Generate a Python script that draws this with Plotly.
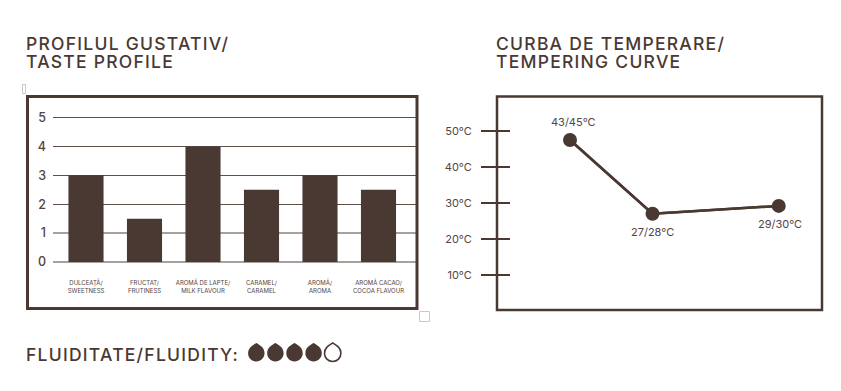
import plotly.graph_objects as go

W, H = 841, 391
BROWN = "#4a3833"
TEXT = "#54443f"

title_left = ["PROFILUL GUSTATIV/", "TASTE PROFILE"]
title_right = ["CURBA DE TEMPERARE/", "TEMPERING CURVE"]
fluidity_label = "FLUIDITATE/FLUIDITY:"
fluidity_levels = [1, 1, 1, 1, 0]

taste_categories = [
    "DULCEAȚĂ/<br>SWEETNESS",
    "FRUCTAT/<br>FRUTINESS",
    "AROMĂ DE LAPTE/<br>MILK FLAVOUR",
    "CARAMEL/<br>CARAMEL",
    "AROMĂ/<br>AROMA",
    "AROMĂ CACAO/<br>COCOA FLAVOUR",
]
taste_values = [3, 1.5, 4, 2.5, 3, 2.5]
taste_ticks = [0, 1, 2, 3, 4, 5]

curve_stage = [0, 1, 2.53]
curve_temp = [47.5, 27, 29.2]
curve_labels = ["43/45°C", "27/28°C", "29/30°C"]
curve_label_shift = [(3, 18), (0, -18), (1, -18)]
temp_ticks = [10, 20, 30, 40, 50]
temp_tick_labels = ["10°C", "20°C", "30°C", "40°C", "50°C"]


def px(x):
    return x / W


def py(y):
    return 1 - y / H


def drop_path(cx, top, r, height):
    cy = top + height - r
    k = r * 0.56
    pts = [
        ("M", [(cx, top)]),
        ("C", [(cx + r * 0.45, top + height * 0.12), (cx + r, cy - r * 0.7), (cx + r, cy)]),
        ("C", [(cx + r, cy + k), (cx + k, cy + r), (cx, cy + r)]),
        ("C", [(cx - k, cy + r), (cx - r, cy + k), (cx - r, cy)]),
        ("C", [(cx - r, cy - r * 0.7), (cx - r * 0.45, top + height * 0.12), (cx, top)]),
    ]
    out = ""
    for cmd, coords in pts:
        out += cmd + " ".join(f"{px(a):.5f},{py(b):.5f}" for a, b in coords) + " "
    return out + "Z"


fig = go.Figure()

fig.add_trace(go.Bar(
    x=taste_categories, y=taste_values, width=0.6,
    marker=dict(color=BROWN, line=dict(width=0)),
    xaxis="x", yaxis="y", hoverinfo="skip",
))
# the inner half of the temperature ticks lives on an overlaying axis, which needs a trace
fig.add_trace(go.Scatter(
    x=curve_stage, y=curve_temp, mode="lines",
    line=dict(color=BROWN, width=2.5),
    xaxis="x2", yaxis="y3", hoverinfo="skip",
))
fig.add_trace(go.Scatter(
    x=curve_stage, y=curve_temp, mode="lines+markers",
    line=dict(color=BROWN, width=2.5),
    marker=dict(color=BROWN, size=14),
    xaxis="x2", yaxis="y2", hoverinfo="skip",
))

# bar chart pixel geometry
bar_step = 58.5
bar_first = 86
bar_left, bar_right = 53, 417.5
bar_unit = 28.9
bar_head = 0.05
bar_bottom = 262
bar_top = bar_bottom - (5 + bar_head) * bar_unit
bar_xrange = [(bar_left - bar_first) / bar_step, (bar_right - bar_first) / bar_step]
# curve pixel geometry
cv_left, cv_right = 497, 822
cv_top, cv_bottom = 96, 310
cv_unit = 82.5
cv_first = 570
t_per_px = 36 / 10
t_low = 10 - (cv_bottom - 275) / t_per_px
t_high = 50 + (131 - cv_top) / t_per_px

curve_xrange = [(cv_left - cv_first) / cv_unit, (cv_right - cv_first) / cv_unit]
curve_yrange = [t_low, t_high]

shapes = [
    dict(type="rect", xref="paper", yref="paper", x0=px(27.5), x1=px(417), y0=py(96.5), y1=py(308.5),
         line=dict(color=BROWN, width=3), fillcolor="rgba(0,0,0,0)"),
    dict(type="rect", xref="paper", yref="paper", x0=px(497), x1=px(822), y0=py(96.5), y1=py(310),
         line=dict(color=BROWN, width=2.5), fillcolor="rgba(0,0,0,0)"),
    # selection handles visible in the picture
    dict(type="rect", xref="paper", yref="paper", x0=px(419.5), x1=px(429.5), y0=py(311.5), y1=py(321.5),
         line=dict(color="#c9c9c9", width=1), fillcolor="white"),
    dict(type="rect", xref="paper", yref="paper", x0=px(22.5), x1=px(25.5), y0=py(84.5), y1=py(93.5),
         line=dict(color="#c9c9c9", width=1), fillcolor="white"),
    # lighter gridline at 1
    dict(type="line", xref="x", yref="y", x0=bar_xrange[0], x1=bar_xrange[1], y0=1, y1=1, layer="between",
         line=dict(color="#a8a09c", width=2)),
]

for i, level in enumerate(fluidity_levels):
    cx = 256.3 + i * 19.1
    shapes.append(dict(
        type="path", xref="paper", yref="paper", path=drop_path(cx, 343, 8.2, 18.5),
        fillcolor=BROWN if level else "white",
        line=dict(color=BROWN, width=1.6 if not level else 0),
    ))

annotations = []


def label(text, x, y, size, weight=500, color=BROWN):
    annotations.append(dict(
        text=text, xref="paper", yref="paper", x=px(x), y=py(y), xanchor="left", align="left",
        yanchor="middle", showarrow=False,
        font=dict(family="Inter", size=size, color=color, weight=weight),
    ))


label(title_left[0], 24, 43, 17.5)
label(title_left[1], 24, 61, 17.5)
label(title_right[0], 494, 43, 17.5)
label(title_right[1], 494, 61, 17.5)
label(fluidity_label, 24, 354, 17.5)

for xv, yv, text, (dx, dy) in zip(curve_stage, curve_temp, curve_labels, curve_label_shift):
    annotations.append(dict(
        text=text, x=xv, y=yv, xref="x2", yref="y2", xanchor="center", yanchor="middle",
        xshift=dx, yshift=dy, showarrow=False,
        font=dict(family="Inter", size=11, color=TEXT),
    ))

fig.update_layout(
    width=W, height=H, margin=dict(l=0, r=0, t=0, b=0, autoexpand=False),
    paper_bgcolor="white", plot_bgcolor="rgba(0,0,0,0)", showlegend=False,
    shapes=shapes, annotations=annotations,
    xaxis=dict(
        domain=[px(bar_left), px(bar_right)], anchor="y", type="category",
        range=bar_xrange,
        showgrid=False, showline=False, ticks="", zeroline=False, ticklabelstandoff=16,
        tickfont=dict(family="Inter", size=6, color=TEXT), tickangle=0,
    ),
    yaxis=dict(
        domain=[py(bar_bottom), py(bar_top)], anchor="x", range=[0, 5 + bar_head],
        tickvals=taste_ticks, showgrid=True, gridcolor="#5f4f4a", gridwidth=1,
        zeroline=True, zerolinecolor="#a8a09c", zerolinewidth=2, showline=False, ticks="",
        ticklabelstandoff=6,
        tickfont=dict(family="Inter", size=12.5, color=TEXT, weight=500),
    ),
    xaxis2=dict(
        domain=[px(cv_left), px(cv_right)], anchor="y2", range=curve_xrange,
        showgrid=False, zeroline=False, showticklabels=False, ticks="", showline=False,
    ),
    yaxis2=dict(
        domain=[py(cv_bottom), py(cv_top)], anchor="x2", range=curve_yrange,
        tickvals=temp_ticks, ticktext=temp_tick_labels, showgrid=False, zeroline=False, showline=False,
        ticks="outside", ticklen=15, tickwidth=1.5, tickcolor=BROWN, ticklabelstandoff=7,
        tickfont=dict(family="Inter", size=11, color=TEXT),
    ),
    yaxis3=dict(
        overlaying="y2", anchor="x2", range=curve_yrange, side="left",
        tickvals=temp_ticks, showticklabels=False, showgrid=False, zeroline=False, showline=False,
        ticks="inside", ticklen=13, tickwidth=1.5, tickcolor=BROWN,
    ),
)

post = """
document.body.style.margin='0';
var s=document.createElement('style');
s.textContent='.annotation-text[style*="17.5px"]{letter-spacing:1.25px}';
document.head.appendChild(s);
"""
fig.write_html("out.html", config={"displayModeBar": False}, post_script=post)
